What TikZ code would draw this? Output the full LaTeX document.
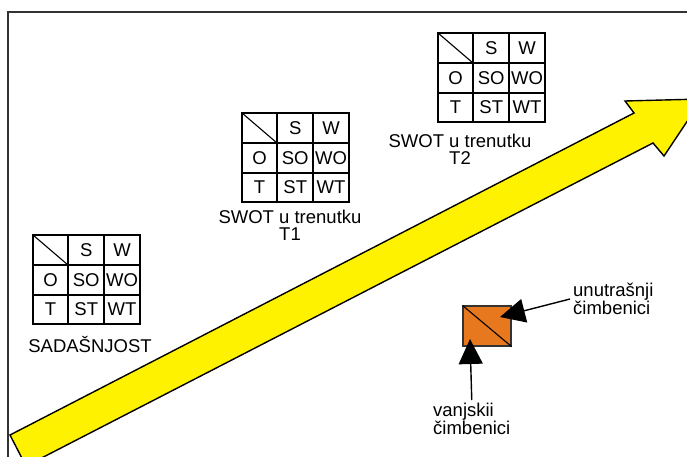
\documentclass[tikz,border=0pt]{standalone}
\usepackage{fontspec}
\setmainfont{Liberation Sans}
\usetikzlibrary{arrows.meta}
\definecolor{arrowyellow}{RGB}{255,242,0}
\definecolor{factorange}{RGB}{232,120,30}

\begin{document}
\begin{tikzpicture}[x=1pt,y=-1pt,font=\fontsize{18.5}{17}\selectfont,
  note/.style={inner sep=3pt,align=left},
  cellline/.style={line width=1.1pt},
  pointer/.style={-{Triangle[length=25pt,width=24pt]},line width=1.4pt}]

\clip (0,0) rectangle (687,457);

\draw[line width=1.2pt,black!80] (8,480) -- (8,12) -- (700,12);

\draw[line width=1.4pt,fill=arrowyellow] (10,435) -- (634,113) -- (625,101) -- (702,99)
  -- (664,156) -- (653,143) -- (26,466) -- cycle;

\foreach \x/\y/\t in {33/235/a, 242/113/b, 438/33/c} {
  \draw[cellline] (\x,\y) rectangle ++(107,89);
  \draw[cellline] (\x+35,\y) -- (\x+35,\y+89);
  \draw[cellline] (\x+71,\y) -- (\x+71,\y+89);
  \draw[cellline] (\x,\y+30) -- (\x+107,\y+30);
  \draw[cellline] (\x,\y+60) -- (\x+107,\y+60);
  \draw[cellline] (\x,\y) -- (\x+35,\y+30);
  \foreach \txt/\c/\r in {S/1/0, W/2/0, O/0/1, SO/1/1, WO/2/1, T/0/2, ST/1/2, WT/2/2}
    \node[inner sep=0] (\t\txt) at (\x+17.5+35.75*\c,\y+15+29.8*\r) {\txt};
}

\node (now) at (90,345) {SADAŠNJOST};
\node[align=center] (t1) at (290,225) {SWOT u trenutku\\T1};
\node[align=center] (t2) at (460,149) {SWOT u trenutku\\T2};

\node[draw=black!80,line width=1.2pt,fill=factorange,minimum width=48pt,minimum height=40pt,inner sep=0] (fac) at (487,326) {};
\draw[line width=1.1pt] (fac.north west) -- (fac.south east);

\coordinate (inTip) at (500,317);
\coordinate (outTip) at (470,339);
\node[note,anchor=west] (intern) at (570,299) {unutrašnji\\čimbenici};
\node[note,anchor=north west] (extern) at (430,400) {vanjskii\\čimbenici};

\draw[pointer] (intern.west) -- (inTip);
\draw[pointer] (extern.north) -- (outTip);

\end{tikzpicture}
\end{document}
